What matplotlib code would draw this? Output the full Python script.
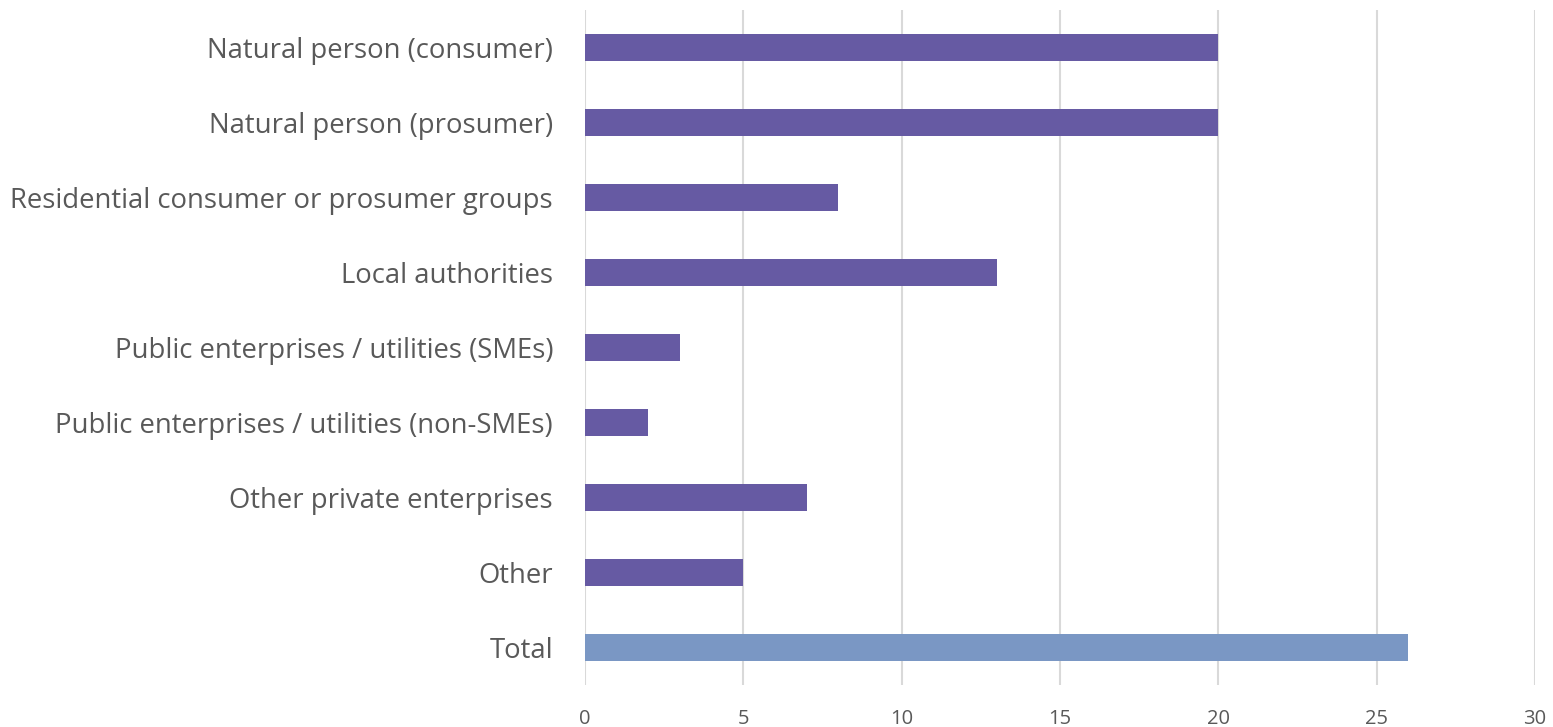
import matplotlib
matplotlib.use("Agg")
import matplotlib.pyplot as plt

categories = [
    "Natural person (consumer)",
    "Natural person (prosumer)",
    "Residential consumer or prosumer groups",
    "Local authorities",
    "Public enterprises / utilities (SMEs)",
    "Public enterprises / utilities (non-SMEs)",
    "Other private enterprises",
    "Other",
    "Total",
]
values = [20, 20, 8, 13, 3, 2, 7, 5, 26]
colors = ["#665AA3"] * 8 + ["#7A97C4"]

plt.rcParams["font.family"] = ["Open Sans", "DejaVu Sans"]

fig = plt.figure(figsize=(15.53, 7.27), dpi=100)
ax = fig.add_axes([585 / 1553, 1 - 685 / 727, 950 / 1553, 675 / 727])

ypos = list(range(len(categories)))
ax.barh(ypos, values, height=0.35, color=colors, zorder=3)
ax.set_yticks(ypos)
ax.set_yticklabels(categories)
ax.set_ylim(len(categories) - 0.5, -0.5)
ax.set_xlim(0, 30)
ax.set_xticks(range(0, 31, 5))

ax.grid(axis="x", color="#D9D9D9", linewidth=1.5, zorder=0)
for s in ax.spines.values():
    s.set_visible(False)
ax.tick_params(axis="y", length=0, pad=23, labelsize=19.8, labelcolor="#595959")
ax.tick_params(axis="x", length=0, pad=17, labelsize=14.5, labelcolor="#595959")

fig.savefig("out.png", dpi=100)
